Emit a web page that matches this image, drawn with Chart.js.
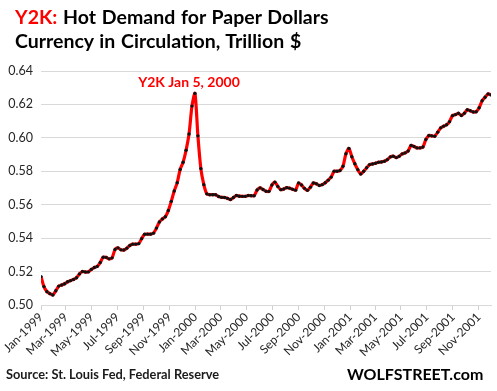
<!DOCTYPE html>
<html>
<head>
<meta charset="utf-8">
<script src="https://cdn.jsdelivr.net/npm/chart.js@4"></script>
<style>
  body { margin: 0; background: #fff; }
  #wrap { position: relative; width: 497px; height: 391px; font-family: Lato, 'Open Sans', sans-serif; }
  #chart { position: absolute; left: 0; top: 0; }
  .t { position: absolute; white-space: nowrap; font-weight: bold; color: #000; }
  #title1 { left: 15px; top: 5px; font-size: 19.5px; word-spacing: 1px; }
  #title2 { left: 15px; top: 29px; font-size: 19.5px; word-spacing: 1px; }
  #source { left: 6px; top: 366px; font-size: 12.8px; color: #1a1a1a; }
  #brand { left: 347px; top: 364px; font-size: 16px; }
  .red { color: #ff0000; }
</style>
</head>
<body>
<div id="wrap">
  <canvas id="chart" width="497" height="391"></canvas>
  <div class="t" id="title1"><span class="red">Y2K:</span> Hot Demand for Paper Dollars</div>
  <div class="t" id="title2">Currency in Circulation, Trillion $</div>
  <div class="t" id="source">Source: St. Louis Fed, Federal Reserve</div>
  <div class="t" id="brand">WOLFSTREET.com</div>
</div>
<script>
// weekly values (Wednesdays), trillion $, first week Jan 6 1999
const firstWeek = Date.UTC(1999, 0, 6);
const currency = [
  0.517, 0.511, 0.508, 0.5068, 0.506, 0.5085, 0.5113, 0.512, 0.5127, 0.5139,
  0.5146, 0.5153, 0.5163, 0.5186, 0.520, 0.5197, 0.5198, 0.5213, 0.5224, 0.5231,
  0.5254, 0.5286, 0.5285, 0.5276, 0.5282, 0.5332, 0.5342, 0.533, 0.5329, 0.534,
  0.5356, 0.5364, 0.5364, 0.5367, 0.5397, 0.5423, 0.5424, 0.5424, 0.543, 0.546,
  0.5497, 0.5515, 0.5528, 0.5565, 0.562, 0.5682, 0.5731, 0.5811, 0.5854, 0.5926,
  0.6023, 0.619, 0.6266, 0.6012, 0.5816, 0.572, 0.5665, 0.566, 0.566, 0.566,
  0.5649, 0.5644, 0.5643, 0.5638, 0.5631, 0.5643, 0.5655, 0.5651, 0.565, 0.565,
  0.5655, 0.5654, 0.5654, 0.5688, 0.5701, 0.5691, 0.5681, 0.568, 0.5718, 0.5735,
  0.5709, 0.569, 0.5694, 0.5702, 0.5699, 0.5692, 0.5687, 0.573, 0.5718, 0.5698,
  0.5686, 0.5705, 0.573, 0.5725, 0.5715, 0.572, 0.5731, 0.5747, 0.5765, 0.580,
  0.580, 0.5805, 0.583, 0.5905, 0.5937, 0.5887, 0.5845, 0.581, 0.5784, 0.580,
  0.5821, 0.584, 0.5844, 0.5848, 0.5854, 0.5856, 0.586, 0.587, 0.5886, 0.589,
  0.5882, 0.589, 0.5904, 0.591, 0.5921, 0.5955, 0.5948, 0.594, 0.594, 0.5945,
  0.599, 0.6014, 0.6012, 0.601, 0.6034, 0.606, 0.607, 0.6078, 0.6097, 0.6133,
  0.6139, 0.6147, 0.6134, 0.6147, 0.6168, 0.6162, 0.6155, 0.6156, 0.618, 0.6222,
  0.6243, 0.6263, 0.6257
];
const yTicks = [0.50, 0.52, 0.54, 0.56, 0.58, 0.60, 0.62, 0.64];
const monthNames = ['Jan', 'Feb', 'Mar', 'Apr', 'May', 'Jun', 'Jul', 'Aug', 'Sep', 'Oct', 'Nov', 'Dec'];
const peakLabel = 'Y2K Jan 5, 2000';

const dayMs = 86400000;
function dayOf(y, m, d) {
  return (Date.UTC(y, m, d) - firstWeek) / dayMs;
}
function labelFor(day) {
  const d = new Date(firstWeek + day * dayMs);
  return monthNames[d.getUTCMonth()] + '-' + d.getUTCFullYear();
}

const points = currency.map((v, i) => ({ x: i * 7, y: v }));
const xTicks = [];
for (let m = 0; m <= 34; m += 2) {
  xTicks.push(dayOf(1999 + Math.floor(m / 12), m % 12, 6));
}
const peakIndex = currency.indexOf(Math.max(...currency));

const peakNote = {
  id: 'peakNote',
  afterDatasetsDraw(chart) {
    const ctx = chart.ctx;
    const xs = chart.scales.x;
    ctx.save();
    ctx.font = 'bold 14px Lato, sans-serif';
    ctx.fillStyle = '#ff0000';
    ctx.textAlign = 'center';
    ctx.textBaseline = 'alphabetic';
    ctx.fillText(peakLabel, xs.getPixelForValue(points[peakIndex].x) - 6, 87);
    ctx.restore();
  }
};

new Chart(document.getElementById('chart'), {
  type: 'line',
  data: {
    datasets: [{
      data: points,
      borderColor: '#ff0000',
      borderWidth: 3.2,
      pointRadius: 1.7,
      pointBackgroundColor: '#111',
      pointBorderWidth: 0,
      tension: 0.25,
      fill: false
    }]
  },
  options: {
    responsive: false,
    animation: false,
    layout: { padding: { top: 71, right: 6, left: 0, bottom: 0 } },
    plugins: { legend: { display: false }, tooltip: { enabled: false } },
    scales: {
      x: {
        type: 'linear',
        min: 0,
        max: points[points.length - 1].x,
        afterBuildTicks(scale) { scale.ticks = xTicks.map(v => ({ value: v })); },
        afterFit(scale) { scale.height = 86; },
        grid: { display: true, drawOnChartArea: false, drawTicks: true, tickLength: 5, color: '#d0d0d0' },
        border: { display: true, color: '#d9d9d9', width: 1 },
        ticks: {
          autoSkip: false,
          minRotation: 45,
          maxRotation: 45,
          color: '#262626',
          font: { family: 'Lato, sans-serif', size: 12 },
          padding: 0,
          callback: v => labelFor(v)
        }
      },
      y: {
        min: 0.50,
        max: 0.64,
        afterBuildTicks(scale) { scale.ticks = yTicks.map(v => ({ value: v })); },
        afterFit(scale) { scale.width = 41; },
        grid: { color: '#d9d9d9', lineWidth: 1, drawTicks: false },
        border: { display: false },
        ticks: {
          color: '#262626',
          font: { family: 'Lato, sans-serif', size: 12.5 },
          padding: 8,
          callback: v => v.toFixed(2)
        }
      }
    }
  },
  plugins: [peakNote]
});
</script>
</body>
</html>
